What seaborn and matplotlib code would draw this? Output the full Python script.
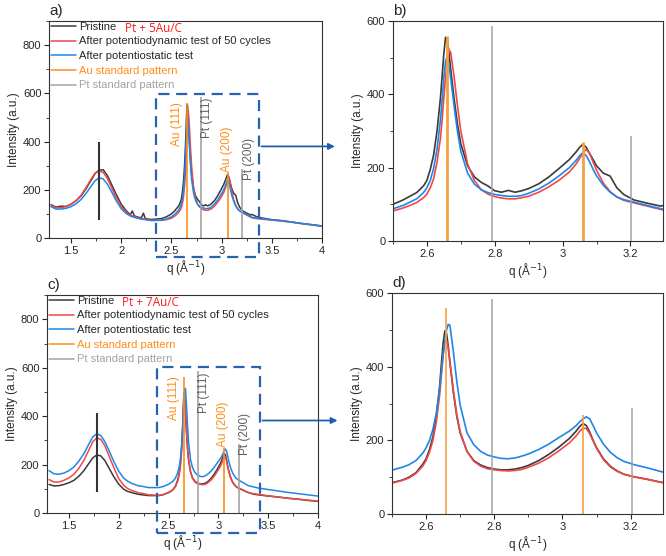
import numpy as np
import pandas as pd
import matplotlib
matplotlib.use('Agg')
import matplotlib.pyplot as plt
from matplotlib.ticker import MultipleLocator
from matplotlib.patches import Rectangle
import seaborn as sns

sns.set_style('ticks')
plt.rcParams['font.family'] = ['Liberation Sans', 'DejaVu Sans']

# ── Data ─────────────────────────────────────────────
q = [1.30, 1.35, 1.40, 1.45, 1.50, 1.55, 1.60, 1.65, 1.70, 1.74, 1.78, 1.82, 1.86, 1.90,
     1.95, 2.00, 2.05, 2.09, 2.11, 2.13, 2.16, 2.20, 2.22, 2.24, 2.30, 2.40, 2.45,
     2.50, 2.53, 2.55, 2.57, 2.59, 2.60, 2.61, 2.62, 2.63, 2.64, 2.645, 2.65, 2.655,
     2.66, 2.665, 2.67, 2.68, 2.69, 2.70, 2.72, 2.74, 2.76, 2.78, 2.80, 2.82, 2.84,
     2.86, 2.88, 2.90, 2.93, 2.96, 2.99, 3.02, 3.04, 3.05, 3.06, 3.07, 3.08, 3.09,
     3.10, 3.12, 3.14, 3.16, 3.18, 3.21, 3.25, 3.29, 3.30,
     3.35, 3.40, 3.50, 3.60, 3.70, 3.80, 3.90, 4.00]

# Pt + 5Au/C
pristine_5 = [138, 128, 132, 131, 140, 155, 175, 205, 240, 268, 282, 283, 260, 225,
              180, 140, 112, 97, 112, 92, 87, 84, 103, 80, 77, 80, 88,
              100, 112, 122, 132, 150, 165, 195, 235, 300, 390, 450, 510, 555,
              550, 515, 470, 390, 320, 265, 205, 175, 160, 150, 137, 133, 138,
              133, 137, 143, 156, 175, 198, 222, 243, 255, 264, 255, 238, 222,
              205, 185, 177, 145, 127, 112, 103, 95, 98,
              88, 83, 76, 72, 66, 60, 55, 50]
dynamic_5 = [135, 125, 126, 130, 140, 155, 178, 210, 245, 270, 279, 272, 248, 212,
             167, 130, 106, 95, 92, 89, 85, 80, 79, 78, 74, 73, 76,
             82, 90, 97, 105, 118, 128, 145, 170, 215, 280, 330, 390, 445,
             490, 520, 515, 450, 370, 300, 210, 165, 140, 128, 121, 117, 115,
             115, 118, 122, 133, 148, 166, 188, 210, 225, 240, 250, 238, 215,
             193, 158, 135, 120, 111, 104, 95, 86, 84,
             80, 78, 74, 70, 65, 59, 54, 48]
static_5 = [130, 120, 120, 123, 130, 142, 160, 186, 215, 238, 250, 245, 224, 194,
            154, 121, 101, 91, 88, 86, 82, 78, 77, 76, 72, 74, 79,
            88, 97, 106, 115, 132, 145, 165, 198, 250, 330, 385, 445, 490,
            502, 480, 445, 370, 300, 245, 185, 155, 140, 132, 127, 124, 122,
            122, 124, 130, 142, 158, 178, 200, 220, 232, 241, 232, 215, 195,
            178, 152, 133, 120, 113, 106, 97, 88, 86,
            82, 80, 75, 71, 66, 60, 55, 49]

# Pt + 7Au/C
pristine_7 = [118, 112, 113, 118, 125, 135, 152, 175, 205, 228, 240, 236, 217, 187,
              150, 119, 98, 89, 87, 84, 81, 77, 76, 75, 72, 72, 76,
              85, 92, 100, 112, 135, 150, 175, 210, 265, 350, 410, 465, 497,
              490, 455, 410, 330, 265, 220, 170, 145, 133, 126, 122, 120, 120,
              122, 126, 132, 145, 162, 182, 205, 225, 237, 246, 240, 222, 200,
              180, 150, 130, 117, 108, 101, 94, 86, 85,
              78, 75, 70, 66, 61, 57, 52, 48]
dynamic_7 = [138, 128, 128, 135, 145, 160, 185, 218, 260, 295, 310, 304, 278, 238,
             188, 142, 114, 101, 97, 93, 89, 83, 82, 81, 75, 73, 77,
             84, 91, 98, 110, 130, 145, 168, 200, 250, 325, 380, 435, 468,
             472, 450, 412, 335, 270, 223, 170, 143, 130, 123, 120, 118, 117,
             118, 121, 127, 138, 153, 172, 193, 212, 224, 233, 232, 218, 198,
             178, 148, 128, 116, 108, 101, 94, 86, 84,
             80, 77, 71, 66, 61, 57, 53, 49]
static_7 = [175, 162, 160, 165, 175, 190, 215, 245, 285, 315, 327, 320, 295, 260,
            213, 172, 144, 131, 127, 122, 118, 112, 111, 110, 105, 105, 110,
            119, 127, 134, 145, 165, 180, 200, 230, 275, 340, 385, 430, 470,
            500, 515, 512, 440, 360, 295, 220, 188, 170, 160, 155, 151, 150,
            152, 157, 163, 175, 190, 208, 225, 240, 250, 258, 264, 258, 240,
            220, 190, 168, 153, 143, 134, 125, 115, 113,
            108, 103, 97, 91, 85, 80, 75, 70]

series = ['Pristine', 'After potentiodynamic test of 50 cycles', 'After potentiostatic test']
colors = ['#3a3a3a', '#f04848', '#1f86e8']

au_q = [2.658, 3.06]
au_h = [560, 270]
pt_q = [2.793, 3.203]
pt_h = [585, 287]
au_color = '#ff8c1a'
pt_color = '#a3a3a3'


def make_df(curves):
    frames = [pd.DataFrame({'q': q, 'I': c, 'sample': s}) for c, s in zip(curves, series)]
    return pd.concat(frames, ignore_index=True)


df5 = make_df([pristine_5, dynamic_5, static_5])
df7 = make_df([pristine_7, dynamic_7, static_7])

fig = plt.figure(figsize=(6.66, 5.56), dpi=100)
ax_a = fig.add_axes([0.0736, 0.572, 0.410, 0.390])
ax_b = fig.add_axes([0.590, 0.5665, 0.405, 0.396])
ax_c = fig.add_axes([0.0706, 0.0773, 0.407, 0.392])
ax_d = fig.add_axes([0.5886, 0.0755, 0.407, 0.3975])


def draw_curves(ax, df, lw):
    sns.lineplot(data=df, x='q', y='I', hue='sample', palette=colors, sort=False,
                 estimator=None, lw=lw, ax=ax, legend=False)


def style(ax, xlim, ylim, xmaj, xmin, ymaj, ymin):
    ax.set_xlim(*xlim)
    ax.set_ylim(*ylim)
    ax.xaxis.set_major_locator(MultipleLocator(xmaj))
    ax.xaxis.set_minor_locator(MultipleLocator(xmin))
    ax.yaxis.set_major_locator(MultipleLocator(ymaj))
    ax.yaxis.set_minor_locator(MultipleLocator(ymin))
    ax.tick_params(which='major', direction='out', length=3.5, width=0.8, labelsize=8, pad=2)
    ax.tick_params(which='minor', direction='out', length=2, width=0.6)
    for sp in ax.spines.values():
        sp.set_visible(True)
        sp.set_linewidth(0.8)
        sp.set_color('#333333')
    ax.set_xlabel('q (Å$^{-1}$)', fontsize=8.5, labelpad=2)
    ax.set_ylabel('Intensity (a.u.)', fontsize=8.5, labelpad=2)
    ax.xaxis.set_major_formatter(plt.FuncFormatter(lambda v, p: f'{v:g}'))


def overview(ax, df, sample_label, c_line, box, arrow_y, arrow_tip):
    draw_curves(ax, df, 1.1)
    ax.vlines(au_q, 0, au_h, color=au_color, lw=1.2)
    ax.vlines(pt_q, 0, pt_h, color=pt_color, lw=1.2)
    ax.vlines([1.78], c_line[0], c_line[1], color='#333333', lw=1.5)
    style(ax, (1.28, 4), (0, 900), 0.5, 0.25, 200, 100)
    ax.text(2.55, 474, 'Au (111)', rotation=90, color=au_color, fontsize=8.5, ha='center', va='center')
    ax.text(2.858, 498, 'Pt (111)', rotation=90, color='#606060', fontsize=8.5, ha='center', va='center')
    ax.text(3.05, 367, 'Au (200)', rotation=90, color=au_color, fontsize=8.5, ha='center', va='center')
    ax.text(3.27, 326, 'Pt (200)', rotation=90, color='#606060', fontsize=8.5, ha='center', va='center')
    x0, x1, y0, y1 = box
    ax.add_patch(Rectangle((x0, y0), x1 - x0, y1 - y0, fill=False, ls=(0, (5, 3)),
                           lw=1.6, ec='#2a62b0', clip_on=False, zorder=5))
    ax.annotate('', xy=(arrow_tip, arrow_y), xycoords=('figure fraction', 'data'),
                xytext=(x1, arrow_y), textcoords='data',
                arrowprops=dict(arrowstyle='-|>', color='#1f5ea8', lw=1.3, mutation_scale=9))
    handles = [plt.Line2D([], [], color=c, lw=1.1) for c in colors]
    handles += [plt.Line2D([], [], color=au_color, lw=1.1), plt.Line2D([], [], color=pt_color, lw=1.1)]
    labels = series + ['Au standard pattern', 'Pt standard pattern']
    leg = ax.legend(handles, labels, loc='upper left', bbox_to_anchor=(0.008, 0.997), frameon=False,
                    fontsize=8, handlelength=2.2, handletextpad=0.3, labelspacing=0.42,
                    borderaxespad=0, borderpad=0)
    leg.get_texts()[3].set_color(au_color)
    leg.get_texts()[4].set_color(pt_color)
    ax.text(0.278, 0.966, sample_label, transform=ax.transAxes, color='#ff1a1a', fontsize=8.5,
            family=['Open Sans', 'DejaVu Sans'], va='center')


def zoomed(ax, df, au_lw):
    draw_curves(ax, df, 1.2)
    ax.vlines(au_q, 0, au_h, color='#f7a040', lw=au_lw)
    ax.vlines(pt_q, 0, pt_h, color=pt_color, lw=1.1)
    style(ax, (2.5, 3.295), (0, 600), 0.2, 0.1, 200, 100)


overview(ax_a, df5, 'Pt + 5Au/C', (75, 397), (2.35, 3.37, -77, 599), 380, 0.507)
zoomed(ax_b, df5, 2.0)
overview(ax_c, df7, 'Pt + 7Au/C', (85, 413), (2.38, 3.415, -83, 604), 382, 0.511)
zoomed(ax_d, df7, 1.2)

for ax, lab in [(ax_a, 'a)'), (ax_b, 'b)'), (ax_c, 'c)'), (ax_d, 'd)')]:
    ax.text(0.0, 1.015, lab, transform=ax.transAxes, fontsize=11, ha='left', va='bottom')

fig.savefig('out.png', dpi=100)
